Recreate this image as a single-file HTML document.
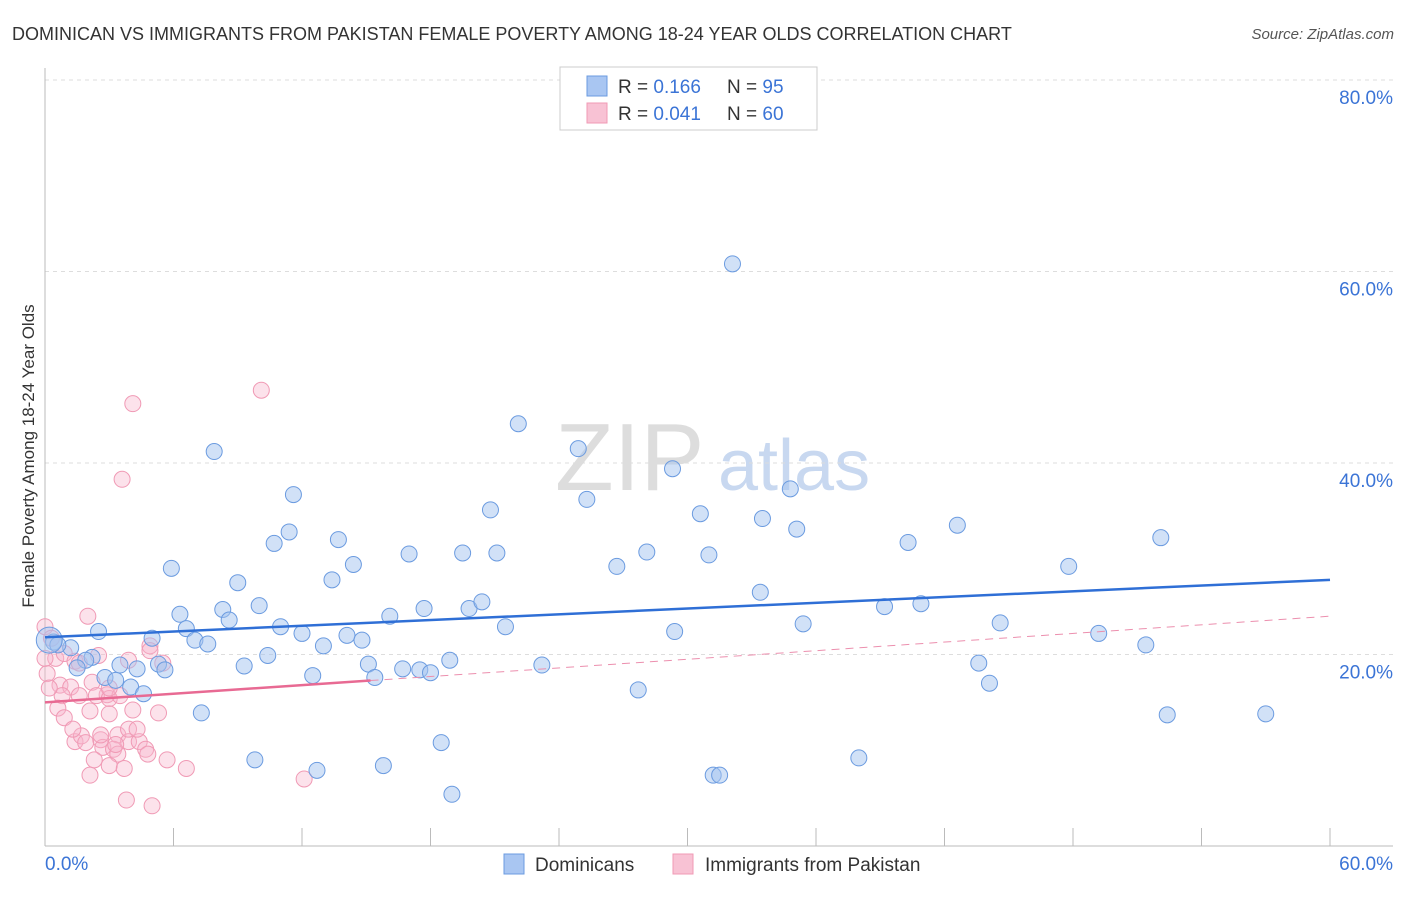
<!DOCTYPE html>
<html><head><meta charset="utf-8"><style>
body{margin:0;background:#fff;font-family:"Liberation Sans",sans-serif;}
svg text{font-family:"Liberation Sans",sans-serif;}
</style></head><body>
<svg id="chart" width="1406" height="892" viewBox="0 0 1406 892">
<text x="12" y="40" font-size="18" fill="#333">DOMINICAN VS IMMIGRANTS FROM PAKISTAN FEMALE POVERTY AMONG 18-24 YEAR OLDS CORRELATION CHART</text>
<text x="1394" y="39" font-size="15" fill="#555" font-style="italic" text-anchor="end">Source: ZipAtlas.com</text>
<g>
<text x="555" y="490" font-size="96" fill="#ddd" font-family="Liberation Serif">ZIP</text>
<text x="718" y="490" font-size="72" fill="#c8d8f0">atlas</text>
</g>
<g id="grid"></g><g id="axes"></g><g id="marks"></g>
<text x="34" y="456" font-size="17" fill="#333" text-anchor="middle" transform="rotate(-90 34 456)">Female Poverty Among 18-24 Year Olds</text>
<g>
<rect x="560" y="67" width="257" height="63" fill="#fff" stroke="#ccc"/>
<rect x="587" y="76" width="20" height="20" fill="#a9c6f2" stroke="#6b9be0"/>
<rect x="587" y="103" width="20" height="20" fill="#f8c2d4" stroke="#f09ab5"/>
<text x="618" y="93" font-size="19" fill="#333">R = <tspan fill="#3b74d6">0.166</tspan></text>
<text x="727" y="93" font-size="19" fill="#333">N = <tspan fill="#3b74d6">95</tspan></text>
<text x="618" y="120" font-size="19" fill="#333">R = <tspan fill="#3b74d6">0.041</tspan></text>
<text x="727" y="120" font-size="19" fill="#333">N = <tspan fill="#3b74d6">60</tspan></text>
</g>
<g>
<rect x="504" y="854" width="20" height="20" fill="#a9c6f2" stroke="#6b9be0"/>
<text x="535" y="871" font-size="19" fill="#333">Dominicans</text>
<rect x="673" y="854" width="20" height="20" fill="#f8c2d4" stroke="#f09ab5"/>
<text x="705" y="871" font-size="19" fill="#333">Immigrants from Pakistan</text>
</g>
</svg>
<script>
const yTicks=[20,40,60,80];
const yTickLabels=["20.0%","40.0%","60.0%","80.0%"];
const xTicks=[0,6,12,18,24,30,36,42,48,54,60];
const domX=[32.1,22.1,7.9,24.9,29.3,34.8,11.6,25.3,20.8,30.6,33.5,35.1,42.6,11.4,10.7,13.7,40.3,52.1,5.9,14.4,17.0,19.5,21.1,26.7,28.1,31.0,47.8,9.0,13.4,10.0,8.3,8.6,6.3,16.1,17.7,19.8,20.4,33.4,39.2,40.9,6.6,7.0,7.6,11.0,12.0,13.0,14.1,14.8,21.5,29.4,35.4,44.6,49.2,51.4,0.4,2.5,5.0,1.2,2.2,1.9,1.5,3.5,4.3,5.3,5.6,9.3,10.4,12.5,15.1,15.4,16.7,17.5,18.0,18.9,23.2,43.6,44.1,27.7,2.8,3.3,4.0,4.6,7.3,52.4,57.0,18.5,9.8,12.7,15.8,19.0,31.2,31.5,38.0,0.6,0.2];
const domY=[60.8,44.1,41.2,41.5,39.4,37.3,36.7,36.2,35.1,34.7,34.2,33.1,33.5,32.8,31.6,32.0,31.7,32.2,29.0,29.4,30.5,30.6,30.6,29.2,30.7,30.4,29.2,27.5,27.8,25.1,24.7,23.6,24.2,24.0,24.8,24.8,25.5,26.5,25.0,25.3,22.7,21.5,21.1,22.9,22.2,20.9,22.0,21.5,22.9,22.4,23.2,23.3,22.2,21.0,21.3,22.4,21.7,20.7,19.7,19.4,18.6,18.9,18.5,19.0,18.4,18.8,19.9,17.8,19.0,17.6,18.5,18.4,18.1,19.4,18.9,19.1,17.0,16.3,17.6,17.3,16.6,15.9,13.9,13.7,13.8,10.8,9.0,7.9,8.4,5.4,7.4,7.4,9.2,21.0,21.5];
const pakX=[10.1,4.1,3.6,2.0,0.0,0.3,0.5,0.9,1.4,1.6,2.5,3.9,4.9,5.5,0.1,0.7,1.2,2.2,2.9,0.8,1.6,2.4,3.0,3.5,0.6,0.9,2.1,3.0,4.1,5.3,1.4,1.7,2.6,3.4,3.9,4.4,2.7,3.2,4.7,3.4,4.8,5.7,6.6,3.0,3.7,2.1,12.1,3.8,5.0,0.0,0.2,1.3,1.9,2.6,3.3,2.3,3.9,4.3,3.0,4.9];
const pakY=[47.6,46.2,38.3,24.0,22.9,21.7,19.6,20.1,19.3,19.1,19.9,19.4,20.9,19.1,18.0,16.8,16.6,17.1,15.8,15.7,15.7,15.7,15.4,15.7,14.4,13.4,14.1,13.8,14.2,13.9,10.9,11.5,11.1,11.6,10.9,10.9,10.3,10.1,10.1,9.6,9.6,9.0,8.1,8.4,8.1,7.4,7.0,4.8,4.2,19.6,16.5,12.2,10.8,11.6,10.6,9.0,12.2,12.2,16.5,20.4];
const blueLine=[21.8,27.8];
const pinkLine=[15.0,24.0];
const pinkSolidEnd=15.2;
const NS="http://www.w3.org/2000/svg";
const X0=45,X1=1330,Y0=846,Y80=80;
function sx(v){return X0+(X1-X0)*v/60;}
function sy(v){return Y0-(Y0-Y80)*v/80;}
function mk(tag,attrs,parent){const e=document.createElementNS(NS,tag);for(const k in attrs)e.setAttribute(k,attrs[k]);parent.appendChild(e);return e;}
const grid=document.getElementById('grid'),axes=document.getElementById('axes'),marks=document.getElementById('marks');
yTicks.forEach((t,i)=>{
 const l=mk('line',{x1:X0,x2:1393,y1:sy(t),y2:sy(t),stroke:'#ddd','stroke-dasharray':'4,4'},grid);
 
 
 const tx=mk('text',{x:1393,y:sy(t)+24,'font-size':19,fill:'#3b74d6','text-anchor':'end'},axes);
 tx.textContent=yTickLabels[i];
 
 
});
const xa=mk('line',{x1:X0,x2:1393,y1:Y0,y2:Y0,stroke:'#bbb'},axes);


const ya=mk('line',{x1:X0,x2:X0,y1:68,y2:Y0,stroke:'#bbb'},axes);


xTicks.forEach(t=>{
 const l=mk('line',{x1:sx(t),x2:sx(t),y1:Y0-18,y2:Y0,stroke:'#bbb'},axes);
 
 
});
const xl0=mk('text',{x:45,y:870,'font-size':19,fill:'#3b74d6'},axes);xl0.textContent='0.0%';


const xl1=mk('text',{x:1393,y:870,'font-size':19,fill:'#3b74d6','text-anchor':'end'},axes);xl1.textContent='60.0%';


pakX.forEach((x,i)=>{
 const c=mk('circle',{cx:sx(x),cy:sy(pakY[i]),r:8,fill:'rgba(248,182,204,0.4)',stroke:'#f09ab5','stroke-width':1},marks);
 
 
});
domX.forEach((x,i)=>{
 const c=mk('circle',{cx:sx(x),cy:sy(domY[i]),r:i==domX.length-1?13:8,fill:'rgba(164,196,240,0.5)',stroke:'#6b9be0','stroke-width':1},marks);
 
 
});
const bl=mk('line',{x1:sx(0),y1:sy(blueLine[0]),x2:sx(60),y2:sy(blueLine[1]),stroke:'#2f6fd6','stroke-width':2.5},marks);


const pm=pinkLine[0]+(pinkLine[1]-pinkLine[0])*pinkSolidEnd/60;
const pd=mk('line',{x1:sx(pinkSolidEnd),y1:sy(pm),x2:sx(60),y2:sy(pinkLine[1]),stroke:'#ec8fae','stroke-width':1,'stroke-dasharray':'8,6'},marks);


const ps=mk('line',{x1:sx(0),y1:sy(pinkLine[0]),x2:sx(pinkSolidEnd),y2:sy(pm),stroke:'#e86a93','stroke-width':2.5},marks);


</script>
</body></html>
